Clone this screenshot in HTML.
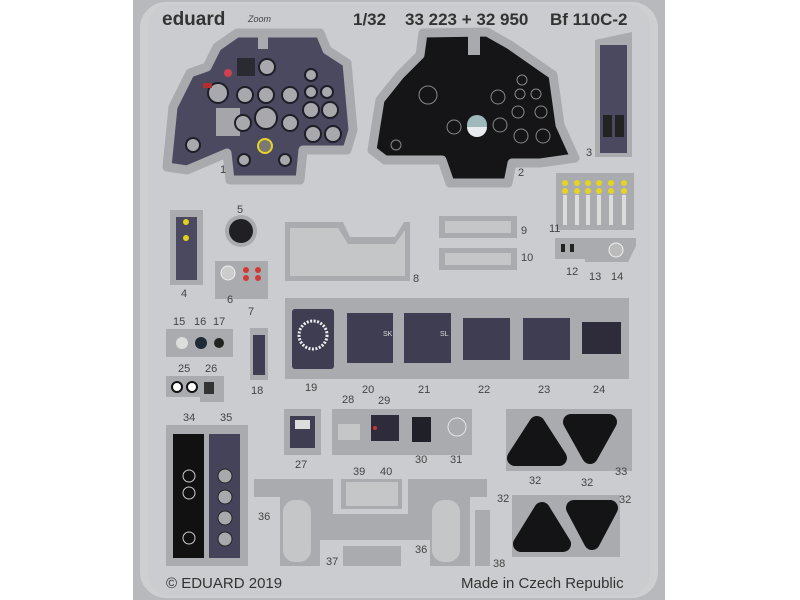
<!DOCTYPE html>
<html><head><meta charset="utf-8"><style>
html,body{margin:0;padding:0;background:#fff;width:800px;height:600px;overflow:hidden}
svg{display:block}
text{font-family:"Liberation Sans",sans-serif}
</style></head><body>
<svg width="800" height="600" viewBox="0 0 800 600" xmlns="http://www.w3.org/2000/svg">
<rect x="0" y="0" width="800" height="600" fill="#fff"/>
<rect x="133" y="-5" width="532" height="610" fill="#b7b9bc"/>
<rect x="140" y="2" width="518" height="596" rx="26" fill="#cdcfd1"/>
<rect x="148" y="4" width="502" height="592" rx="22" fill="#cacccf"/>

<text x="162" y="25" font-family="Liberation Serif,serif" font-size="19" font-weight="bold" fill="#333">eduard</text>
<text x="248" y="22" font-size="9" font-style="italic" fill="#444">Zoom</text>
<text x="353" y="25" font-size="17" font-weight="bold" fill="#333">1/32</text>
<text x="405" y="25" font-size="17" font-weight="bold" fill="#333">33 223 + 32 950</text>
<text x="550" y="25" font-size="17" font-weight="bold" fill="#333">Bf 110C-2</text>

<polygon points="237,33 320,33 327,50 347,63 353,130 347,150 303,150 300,180 230,180 227,153 187,170 167,167 173,107 190,73 207,67 217,47" fill="#4b4960" stroke="#a8aaae" stroke-width="9" stroke-linejoin="round"/>
<rect x="258" y="35" width="10" height="14" fill="#a8aaae"/>
<rect x="216" y="108" width="24" height="28" fill="#a5a5aa"/>
<g fill="#a9a9ad" stroke="#1e1e28" stroke-width="2">
<circle cx="218" cy="93" r="10"/><circle cx="245" cy="95" r="8"/><circle cx="266" cy="95" r="8"/><circle cx="290" cy="95" r="8"/>
<circle cx="266" cy="118" r="11"/><circle cx="243" cy="123" r="8"/><circle cx="290" cy="123" r="8"/>
<circle cx="267" cy="67" r="8"/><circle cx="311" cy="75" r="6"/><circle cx="311" cy="92" r="6"/><circle cx="327" cy="92" r="6"/>
<circle cx="311" cy="110" r="8"/><circle cx="330" cy="110" r="8"/><circle cx="313" cy="134" r="8"/><circle cx="333" cy="134" r="8"/>
<circle cx="193" cy="145" r="7"/><circle cx="244" cy="160" r="6"/><circle cx="285" cy="160" r="6"/>
</g>
<circle cx="265" cy="146" r="7" fill="#7a7a70" stroke="#e6d22a" stroke-width="2"/>
<circle cx="228" cy="73" r="4" fill="#d04050"/>
<rect x="203" y="83" width="9" height="5" fill="#b03030"/>
<rect x="237" y="58" width="18" height="18" fill="#2a2a33"/>
<text x="220" y="173" font-size="11" fill="#444">1</text>

<polygon points="423,33 487,32 510,45 553,75 560,125 575,158 540,163 512,163 508,183 450,183 442,160 385,160 372,150 380,100 400,75 420,55" fill="#151517" stroke="#a8aaae" stroke-width="9" stroke-linejoin="round"/>
<rect x="468" y="33" width="12" height="22" fill="#a8aaae"/>
<circle cx="477" cy="125" r="10" fill="#9fb8bb"/>
<path d="M467,127 h20 a10,10 0 0 1 -20,0z" fill="#e8ecee"/>
<g fill="none" stroke="#888" stroke-width="1">
<circle cx="428" cy="95" r="9"/><circle cx="498" cy="97" r="7"/><circle cx="522" cy="80" r="5"/><circle cx="520" cy="94" r="5"/><circle cx="536" cy="94" r="5"/>
<circle cx="518" cy="112" r="6"/><circle cx="541" cy="112" r="6"/><circle cx="454" cy="127" r="7"/><circle cx="500" cy="125" r="7"/>
<circle cx="521" cy="136" r="7"/><circle cx="543" cy="136" r="7"/><circle cx="396" cy="145" r="5"/>
</g>
<text x="518" y="176" font-size="11" fill="#444">2</text>

<polygon points="595,40 632,32 632,157 595,157" fill="#a9abae"/>
<rect x="600" y="45" width="27" height="108" fill="#4b4960"/>
<rect x="603" y="115" width="9" height="22" fill="#222"/><rect x="615" y="115" width="9" height="22" fill="#222"/>
<text x="586" y="156" font-size="11" fill="#444">3</text>

<rect x="556" y="173" width="78" height="57" fill="#a9abae"/>
<g fill="#e5d51e"><circle cx="565" cy="183" r="3"/><circle cx="577" cy="183" r="3"/><circle cx="588" cy="183" r="3"/><circle cx="599" cy="183" r="3"/><circle cx="611" cy="183" r="3"/><circle cx="624" cy="183" r="3"/>
<circle cx="565" cy="191" r="3"/><circle cx="577" cy="191" r="3"/><circle cx="588" cy="191" r="3"/><circle cx="599" cy="191" r="3"/><circle cx="611" cy="191" r="3"/><circle cx="624" cy="191" r="3"/></g>
<g fill="#dcdcdc"><rect x="563" y="195" width="4" height="30"/><rect x="575" y="195" width="4" height="30"/><rect x="586" y="195" width="4" height="30"/><rect x="597" y="195" width="4" height="30"/><rect x="609" y="195" width="4" height="30"/><rect x="622" y="195" width="4" height="30"/></g>
<text x="549" y="232" font-size="11" fill="#444">11</text>
<polygon points="555,238 636,238 636,246 628,262 585,262 585,259 555,259" fill="#a9abae"/>
<rect x="561" y="244" width="4" height="8" fill="#222"/><rect x="570" y="244" width="4" height="8" fill="#222"/>
<circle cx="616" cy="250" r="7" fill="#bbb" stroke="#eee"/>
<text x="566" y="275" font-size="11" fill="#444">12</text><text x="589" y="280" font-size="11" fill="#444">13</text><text x="611" y="280" font-size="11" fill="#444">14</text>

<rect x="170" y="210" width="33" height="75" fill="#a9abae"/>
<rect x="176" y="217" width="21" height="63" fill="#4b4960"/>
<circle cx="186" cy="222" r="3" fill="#e0d020"/><circle cx="186" cy="238" r="3" fill="#e0d020"/>
<text x="181" y="297" font-size="11" fill="#444">4</text>
<text x="237" y="213" font-size="11" fill="#444">5</text>
<circle cx="241" cy="231" r="16" fill="#a9abae"/><circle cx="241" cy="231" r="12" fill="#202024"/>
<rect x="215" y="261" width="53" height="38" fill="#a9abae"/>
<circle cx="228" cy="273" r="7" fill="#ccc" stroke="#eee"/>
<g fill="#d03a36"><circle cx="246" cy="270" r="3"/><circle cx="246" cy="278" r="3"/><circle cx="258" cy="270" r="3"/><circle cx="258" cy="278" r="3"/></g>
<text x="227" y="303" font-size="11" fill="#444">6</text><text x="248" y="315" font-size="11" fill="#444">7</text>

<polygon points="285,222 343,222 350,237 395,237 404,222 410,222 410,281 285,281" fill="#a9abae"/>
<polygon points="290,228 338,228 348,244 395,244 405,230 405,276 290,276" fill="#c4c6c8"/>
<text x="413" y="282" font-size="11" fill="#444">8</text>
<rect x="439" y="216" width="78" height="22" fill="#a9abae"/><rect x="445" y="221" width="66" height="12" fill="#c4c6c8"/>
<rect x="439" y="248" width="78" height="22" fill="#a9abae"/><rect x="445" y="253" width="66" height="12" fill="#c4c6c8"/>
<text x="521" y="234" font-size="11" fill="#444">9</text><text x="521" y="261" font-size="11" fill="#444">10</text>

<rect x="285" y="298" width="344" height="81" fill="#a9abae"/>
<rect x="292" y="309" width="42" height="60" rx="3" fill="#3f3d52"/>
<circle cx="313" cy="335" r="14" fill="none" stroke="#eee" stroke-width="3" stroke-dasharray="2 1.5"/>
<rect x="347" y="313" width="46" height="50" fill="#3f3d52"/>
<rect x="404" y="313" width="47" height="50" fill="#3f3d52"/>
<rect x="463" y="318" width="47" height="42" fill="#3f3d52"/>
<rect x="523" y="318" width="47" height="42" fill="#3f3d52"/>
<rect x="582" y="322" width="39" height="32" fill="#2e2c3a"/>
<text x="383" y="336" font-size="7" fill="#ddd">SK</text><text x="440" y="336" font-size="7" fill="#ddd">SL</text>
<g font-size="11" fill="#444"><text x="305" y="391">19</text><text x="362" y="393">20</text><text x="418" y="393">21</text><text x="478" y="393">22</text><text x="538" y="393">23</text><text x="593" y="393">24</text></g>

<rect x="166" y="329" width="67" height="28" fill="#a9abae"/>
<circle cx="182" cy="343" r="6" fill="#ddd"/><circle cx="201" cy="343" r="6" fill="#1e2a36"/><circle cx="219" cy="343" r="5" fill="#222"/>
<g font-size="11" fill="#444"><text x="173" y="325">15</text><text x="194" y="325">16</text><text x="213" y="325">17</text></g>
<polygon points="166,376 224,376 224,402 200,402 200,397 166,397" fill="#a9abae"/>
<circle cx="177" cy="387" r="5" fill="#fff" stroke="#111" stroke-width="2"/><circle cx="192" cy="387" r="5" fill="#fff" stroke="#111" stroke-width="2"/>
<rect x="204" y="382" width="10" height="12" fill="#333"/>
<g font-size="11" fill="#444"><text x="178" y="372">25</text><text x="205" y="372">26</text></g>
<rect x="250" y="328" width="18" height="52" fill="#a9abae"/><rect x="253" y="335" width="12" height="40" fill="#3f3d52"/>
<text x="251" y="394" font-size="11" fill="#444">18</text>

<rect x="166" y="425" width="82" height="141" fill="#a9abae"/>
<rect x="173" y="434" width="31" height="124" fill="#111"/>
<rect x="209" y="434" width="31" height="124" fill="#45435a"/>
<g fill="#a9a9ad" stroke="#222"><circle cx="225" cy="476" r="7"/><circle cx="225" cy="497" r="7"/><circle cx="225" cy="518" r="7"/><circle cx="225" cy="539" r="7"/></g>
<g fill="none" stroke="#ccc"><circle cx="189" cy="476" r="6"/><circle cx="189" cy="493" r="6"/><circle cx="189" cy="538" r="6"/></g>
<g font-size="11" fill="#444"><text x="183" y="421">34</text><text x="220" y="421">35</text></g>

<rect x="284" y="409" width="37" height="46" fill="#a9abae"/><rect x="290" y="416" width="25" height="32" fill="#3f3d52"/>
<rect x="295" y="420" width="15" height="9" fill="#ddd"/>
<text x="295" y="468" font-size="11" fill="#444">27</text>
<rect x="332" y="409" width="140" height="46" fill="#a9abae"/>
<rect x="338" y="424" width="22" height="16" fill="#c4c6c8"/>
<rect x="371" y="415" width="28" height="26" fill="#2e2c3a"/>
<circle cx="375" cy="428" r="2" fill="#d03030"/>
<rect x="412" y="417" width="19" height="25" fill="#202028"/>
<circle cx="457" cy="427" r="9" fill="none" stroke="#e5e5e5"/>
<g font-size="11" fill="#444"><text x="342" y="403">28</text><text x="378" y="404">29</text><text x="415" y="463">30</text><text x="450" y="463">31</text></g>

<rect x="506" y="409" width="126" height="62" fill="#a9abae"/>
<polygon points="537,424 559,458 515,458" fill="#141416" stroke="#141416" stroke-width="16" stroke-linejoin="round"/>
<polygon points="571,422 609,422 590,456" fill="#141416" stroke="#141416" stroke-width="16" stroke-linejoin="round"/>
<g font-size="11" fill="#444"><text x="529" y="484">32</text><text x="581" y="486">32</text><text x="615" y="475">33</text></g>
<rect x="512" y="495" width="108" height="62" fill="#a9abae"/>
<polygon points="542,510 563,544 521,544" fill="#141416" stroke="#141416" stroke-width="16" stroke-linejoin="round"/>
<polygon points="574,508 610,508 592,542" fill="#141416" stroke="#141416" stroke-width="16" stroke-linejoin="round"/>
<g font-size="11" fill="#444"><text x="497" y="502">32</text><text x="619" y="503">32</text></g>

<polygon points="254,479 333,479 333,514 408,514 408,479 487,479 487,497 470,497 470,566 430,566 430,540 320,540 320,566 280,566 280,497 254,497" fill="#a9abae"/>
<rect x="341" y="479" width="61" height="30" fill="#a9abae"/><rect x="346" y="482" width="52" height="24" fill="#c4c6c8"/>
<rect x="283" y="500" width="28" height="62" rx="12" fill="#c4c6c8"/>
<rect x="432" y="500" width="28" height="62" rx="12" fill="#c4c6c8"/>
<rect x="343" y="546" width="58" height="20" fill="#a9abae"/>
<rect x="475" y="510" width="15" height="56" fill="#a9abae"/>
<g font-size="11" fill="#444"><text x="258" y="520">36</text><text x="415" y="553">36</text><text x="326" y="565">37</text><text x="493" y="567">38</text><text x="353" y="475">39</text><text x="380" y="475">40</text></g>

<text x="166" y="588" font-size="15" fill="#333">© EDUARD 2019</text>
<text x="461" y="588" font-size="15" fill="#333">Made in Czech Republic</text>
</svg>
</body></html>
